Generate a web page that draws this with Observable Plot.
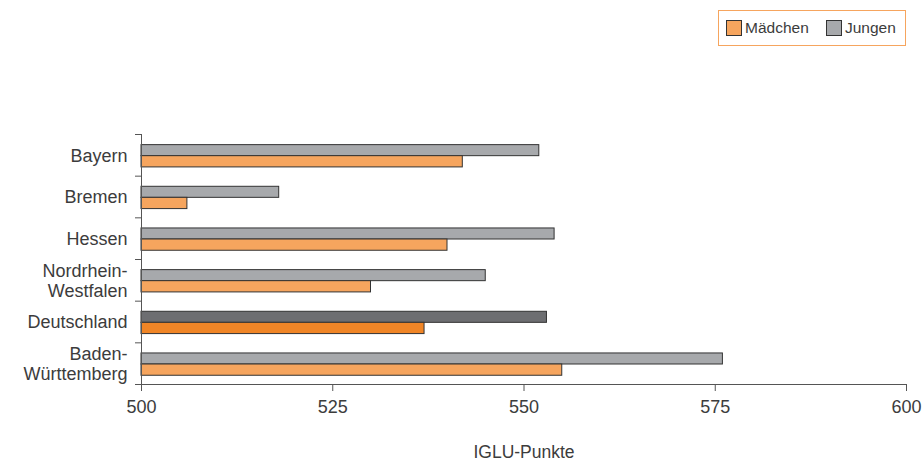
<!DOCTYPE html>
<html><head><meta charset="utf-8">
<script src="https://cdn.jsdelivr.net/npm/d3@7"></script>
<script src="https://cdn.jsdelivr.net/npm/@observablehq/plot@0.6"></script>
<style>
html,body{margin:0;padding:0;background:#fff;}
body{font-family:"Liberation Sans",Arial,sans-serif;}
#wrap{position:relative;width:924px;height:464px;}
#legend{position:absolute;left:718px;top:10px;width:186px;height:34px;border:1px solid #f6a55e;font-size:15.5px;color:#3c3c3c;}
.item{position:absolute;top:0;height:34px;display:flex;align-items:center;}
.sw{width:14px;height:14px;border:1px solid #333;margin-right:3px;}
</style></head>
<body>
<div id="wrap">
<div id="legend">
  <div class="item" style="left:7px"><span class="sw" style="background:#f6a55e"></span>Mädchen</div>
  <div class="item" style="left:107px"><span class="sw" style="background:#a7a9ac"></span>Jungen</div>
</div>
<div id="chart"></div>
</div>
<script>
const categories = ["Bayern", "Bremen", "Hessen", "Nordrhein-\nWestfalen", "Deutschland", "Baden-\nWürttemberg"];
const jungen   = [552, 518, 554, 545, 553, 576];
const maedchen = [542, 506, 540, 530, 537, 555];
const xTicks = [500, 525, 550, 575, 600];
const highlight = "Deutschland";

const colors = {
  Jungen: "#a7a9ac", JungenDark: "#6d6e71",
  Mädchen: "#f6a55e", MädchenDark: "#f08526"
};

const rows = categories.flatMap((c, i) => [
  {cat: c, idx: i, g: "Jungen", v: jungen[i], top: i + 0.255, bot: i + 0.52},
  {cat: c, idx: i, g: "Mädchen", v: maedchen[i], top: i + 0.52, bot: i + 0.79}
]);

const font = '"Liberation Sans", Arial, sans-serif';
const textColor = "#3c3c3c";

const chart = Plot.plot({
  width: 924,
  height: 464,
  marginLeft: 141,
  marginRight: 18,
  marginTop: 134,
  marginBottom: 80,
  style: {fontFamily: font, fontSize: "18px", color: textColor, background: "transparent"},
  x: {domain: [500, 600]},
  y: {domain: [0, categories.length], reverse: true},
  marks: [
    Plot.rectX(rows, {
      x1: 500, x2: "v", y1: "top", y2: "bot",
      fill: d => d.cat === highlight ? colors[d.g + "Dark"] : colors[d.g],
      stroke: "#333", strokeWidth: 1
    }),
    Plot.ruleX([500], {stroke: "#555", strokeWidth: 1}),
    Plot.ruleY([categories.length], {stroke: "#555", strokeWidth: 1}),
    Plot.axisY(d3.range(categories.length + 1), {tickSize: 6, tickFormat: () => "", stroke: "#555", label: null}),
    Plot.text(categories, {
      x: 500, y: (d, i) => i + 0.5, text: d => d,
      textAnchor: "end", dx: -14, lineHeight: 1.12, fontSize: 18, fill: textColor
    }),
    Plot.axisX(xTicks, {
      tickSize: 7, tickPadding: 9, stroke: "#555", fill: textColor, fontSize: 18,
      tickFormat: d => String(d),
      label: null
    }),
    Plot.text(["IGLU-Punkte"], {
      x: 550, y: categories.length, text: d => d, dy: 68, fontSize: 17.5, fill: textColor
    })
  ]
});
document.getElementById("chart").appendChild(chart);
</script>
</body></html>
